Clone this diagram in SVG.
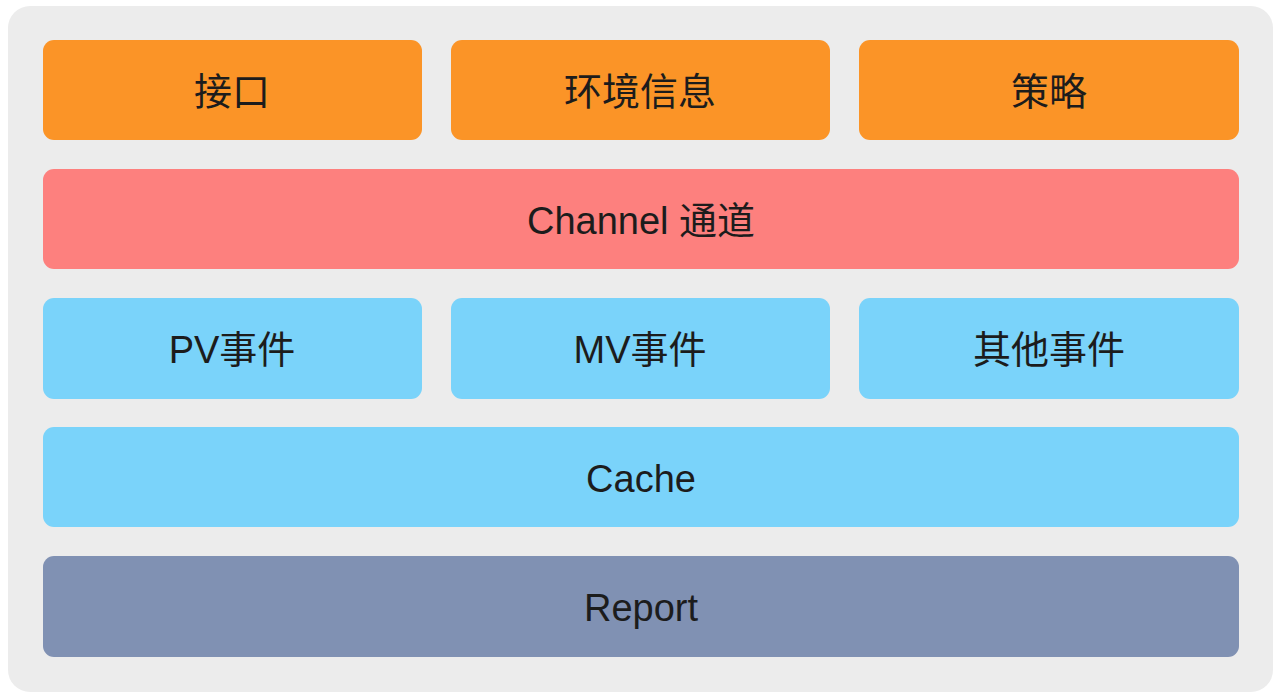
<svg xmlns="http://www.w3.org/2000/svg" width="1280" height="699" viewBox="0 0 1280 699">
<style>
.t{font-family:"Helvetica Neue","Liberation Sans","Noto Sans CJK SC",sans-serif;font-size:38px;fill:#1c1c1c;text-anchor:middle;dominant-baseline:central}
.o{fill:#fb9427}
.r{fill:#fd807e}
.b{fill:#7ad3fa}
.g{fill:#8091b3}
</style>
<rect x="0" y="0" width="1280" height="699" fill="#ffffff"/>
<rect x="8" y="6" width="1265" height="686" rx="22" fill="#ececec"/>
<g id="jiekou"><rect class="o" x="43" y="40" width="379" height="100" rx="11"/><text class="t" x="232" y="92">接口</text></g>
<g id="huanjing"><rect class="o" x="451" y="40" width="379" height="100" rx="11"/><text class="t" x="640" y="92">环境信息</text></g>
<g id="celue"><rect class="o" x="859" y="40" width="380" height="100" rx="11"/><text class="t" x="1049" y="92">策略</text></g>
<g id="channel"><rect class="r" x="43" y="169" width="1196" height="100" rx="11"/><text class="t" x="641" y="221">Channel 通道</text></g>
<g id="pv"><rect class="b" x="43" y="298" width="379" height="101" rx="11"/><text class="t" x="232" y="350">PV事件</text></g>
<g id="mv"><rect class="b" x="451" y="298" width="379" height="101" rx="11"/><text class="t" x="640" y="350">MV事件</text></g>
<g id="other"><rect class="b" x="859" y="298" width="380" height="101" rx="11"/><text class="t" x="1049" y="350">其他事件</text></g>
<g id="cache"><rect class="b" x="43" y="427" width="1196" height="100" rx="11"/><text class="t" x="641" y="479">Cache</text></g>
<g id="report"><rect class="g" x="43" y="556" width="1196" height="101" rx="11"/><text class="t" x="641" y="608">Report</text></g>
<g id="connectors"></g>
</svg>
